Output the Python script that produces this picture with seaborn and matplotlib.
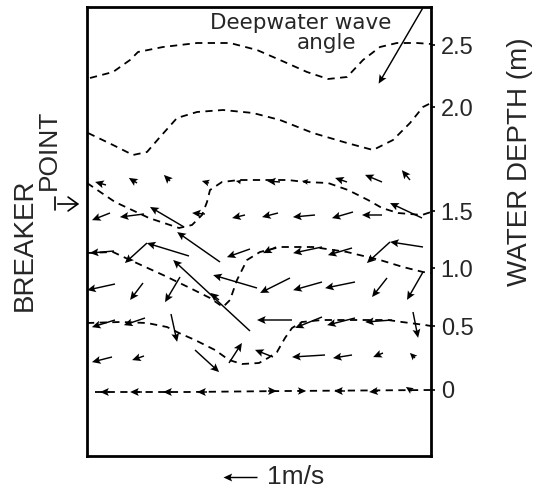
import numpy as np
import pandas as pd
import matplotlib
matplotlib.use("Agg")
import matplotlib.pyplot as plt
from matplotlib.patches import FancyArrowPatch
from matplotlib.lines import Line2D
import seaborn as sns

# ---------------- data ----------------
# current vectors: alongshore position, cross-shore position (tail), velocity (m/s)
row_a_x = [19, 50, 83, 122, 154, 193, 221, 260, 295, 323]
row_a_y = [271, 273, 275, 273, 274, 274, 274, 274, 274, 276]
row_a_u = [-0.32, -0.24, -0.18, -0.21, -0.15, -0.38, -0.18, -0.35, -0.50, -0.24]
row_a_v = [0.09, 0.15, 0.18, 0.06, 0.03, 0.03, 0.03, 0.12, 0.21, 0.29]

row_b_x = [23, 57, 97, 118, 158, 191, 228, 266, 295, 335]
row_b_y = [243, 242, 229, 242, 241, 243, 241, 244, 241, 238]
row_b_u = [-0.53, -0.71, -1.00, -0.38, -0.38, -0.47, -0.65, -0.62, -0.59, -0.94]
row_b_v = [-0.21, -0.09, 0.59, 0.03, -0.09, -0.12, -0.06, -0.18, 0.00, 0.44]

row_c_x = [27, 60, 102, 133, 163, 189, 235, 265, 303, 336]
row_c_y = [205, 213, 200, 194, 207, 209, 209, 208, 214, 209]
row_c_u = [-0.71, -0.65, -1.24, -1.26, -0.68, -0.38, -0.85, -0.71, -0.68, -0.97]
row_c_v = [-0.06, -0.59, 0.38, 0.88, -0.24, -0.18, -0.18, -0.21, -0.62, 0.15]

row_d_x = [28, 56, 93, 163, 170, 203, 235, 268, 300, 336]
row_d_y = [172, 173, 179, 125, 168, 178, 174, 174, 178, 184]
row_d_u = [-0.82, -0.38, -0.44, -2.26, -1.29, -0.88, -0.85, -0.88, -0.44, -0.47]
row_d_v = [-0.18, -0.50, -0.74, 2.09, 0.38, -0.44, -0.24, -0.18, -0.56, -0.82]

row_e_x = [28, 58, 84, 132, 205, 235, 268, 305, 326]
row_e_y = [136, 138, 142, 156, 136, 139, 138, 136, 144]
row_e_u = [-0.68, -0.62, 0.18, -0.26, -1.03, -0.79, -0.82, -0.79, 0.15]
row_e_v = [-0.21, -0.21, -0.82, 0.21, 0.00, -0.32, -0.21, -0.06, -0.76]

row_f_x = [25, 57, 108, 142, 186, 238, 265, 296, 328]
row_f_y = [99, 100, 106, 93, 99, 101, 101, 103, 98]
row_f_u = [-0.59, -0.35, 0.71, 0.38, -0.53, -0.97, -0.56, -0.29, -0.15]
row_f_v = [-0.15, -0.12, -0.65, 0.59, 0.21, -0.06, -0.09, -0.12, 0.15]

row_g_x = [23, 55, 85, 120, 181, 211, 258, 291, 325]
row_g_y = [64, 64, 64, 64, 65, 65, 65, 65, 65]
row_g_u = [-0.29, -0.35, -0.26, -0.29, 0.26, 0.24, -0.32, -0.26, -0.18]
row_g_v = [0, 0, 0, 0, 0, 0, 0, -0.03, 0.12]

# deepwater wave direction
deep_x = [335]
deep_y = [448]
deep_u = [-1.29]
deep_v = [-2.21]

# depth contours
c25_x = [3, 26, 43, 51, 76, 110, 143, 170, 193, 220, 241, 260, 276, 293, 310, 330, 344]
c25_y = [378, 384, 396, 404, 409, 413, 413, 406, 396, 384, 377, 379, 396, 409, 413, 413, 412]
c20_x = [1, 26, 46, 60, 73, 90, 110, 136, 166, 193, 226, 260, 286, 306, 323, 336, 344]
c20_y = [323, 311, 301, 304, 319, 338, 344, 346, 343, 336, 323, 313, 306, 316, 333, 349, 353]
c15_x = [0, 28, 62, 92, 105, 115, 120, 123, 135, 152, 178, 201, 218, 241, 261, 281, 295, 311, 335, 344]
c15_y = [273, 254, 238, 228, 231, 241, 254, 266, 274, 276, 276, 276, 274, 273, 266, 256, 248, 243, 241, 244]
c10_x = [0, 26, 43, 76, 103, 123, 136, 143, 150, 160, 173, 193, 226, 260, 293, 316, 336, 344]
c10_y = [203, 204, 196, 181, 168, 158, 149, 156, 176, 196, 204, 209, 209, 204, 196, 189, 184, 183]
c05_x = [0, 33, 60, 80, 92, 108, 128, 142, 155, 172, 181, 190, 198, 205, 215, 235, 268, 301, 315, 338, 344]
c05_y = [133, 134, 133, 129, 123, 116, 106, 96, 92, 93, 98, 104, 118, 128, 134, 136, 136, 136, 134, 131, 130]
c00_x = [8, 100, 200, 344]
c00_y = [64, 64, 65, 66]

depth_labels = ["2.5", "2.0", "1.5", "1.0", "0.5", "0"]
depth_label_y = [411, 349, 245, 188, 130, 66]

# ---------------- plotting ----------------
sns.set_style("white")
plt.rcParams["font.family"] = ["Liberation Sans", "DejaVu Sans"]

W, H = 537, 495
fig = plt.figure(figsize=(W / 100, H / 100), dpi=100)
ax = fig.add_axes([87 / W, 1 - 456 / H, 344 / W, 449 / H])

contours = [(c25_x, c25_y), (c20_x, c20_y), (c15_x, c15_y),
            (c10_x, c10_y), (c05_x, c05_y), (c00_x, c00_y)]
for cx, cy in contours:
    sns.lineplot(x=cx, y=cy, sort=False, estimator=None, ax=ax, color="black",
                 linewidth=1.3, linestyle=(0, (4, 3)))

vec = pd.DataFrame({
    "x": row_a_x + row_b_x + row_c_x + row_d_x + row_e_x + row_f_x + row_g_x,
    "y": row_a_y + row_b_y + row_c_y + row_d_y + row_e_y + row_f_y + row_g_y,
    "u": row_a_u + row_b_u + row_c_u + row_d_u + row_e_u + row_f_u + row_g_u,
    "v": row_a_v + row_b_v + row_c_v + row_d_v + row_e_v + row_f_v + row_g_v,
})

qkw = dict(angles="xy", scale_units="xy", scale=1 / 34, pivot="tail",
           color="black", width=0.0042, headwidth=5.5, headlength=6,
           headaxislength=5, minlength=0.5)
Q = ax.quiver(vec["x"], vec["y"], vec["u"], vec["v"], **qkw)
ax.quiver(deep_x, deep_y, deep_u, deep_v, **qkw)

ax.set_xlim(0, 344)
ax.set_ylim(0, 449)
ax.set_xticks([])
ax.yaxis.tick_right()
ax.set_yticks(depth_label_y)
ax.set_yticklabels(depth_labels)
ax.tick_params(axis="y", right=True, length=3, width=1.2, pad=4,
               labelsize=17, direction="out", color="black")
for s in ax.spines.values():
    s.set_linewidth(2.0)
    s.set_color("black")

ax.text(214, 433, "Deepwater wave", ha="center", va="center", fontsize=15.5,
        family=["DejaVu Sans"])
ax.text(239, 413, "angle", ha="center", va="center", fontsize=15.5,
        family=["DejaVu Sans"])

# key arrow 1 m/s
ax.quiverkey(Q, 223 / W, 1 - 477 / H, 1, "1m/s", coordinates="figure",
             angle=180, labelpos="E", labelsep=0.44,
             fontproperties={"family": "Liberation Sans", "size": 19})

fig.text(520 / W, 1 - 162 / H, "WATER DEPTH (m)", rotation=90, ha="center",
         va="center", fontsize=20)
fig.text(25 / W, 1 - 245 / H, "BREAKER", rotation=90, ha="center",
         va="center", fontsize=20)
fig.text(49 / W, 1 - 150 / H, "POINT", rotation=90, ha="center",
         va="center", fontsize=19)
fig.add_artist(FancyArrowPatch(
    (55 / W, 1 - 204 / H), (82 / W, 1 - 204 / H), transform=fig.transFigure,
    arrowstyle="->,head_length=0.35,head_width=0.25",
    color="black", linewidth=1.2, mutation_scale=20))
fig.add_artist(Line2D([55 / W, 55 / W], [1 - 197 / H, 1 - 210 / H],
                      transform=fig.transFigure, color="black", linewidth=1.2))

fig.savefig("out.png", dpi=100)
